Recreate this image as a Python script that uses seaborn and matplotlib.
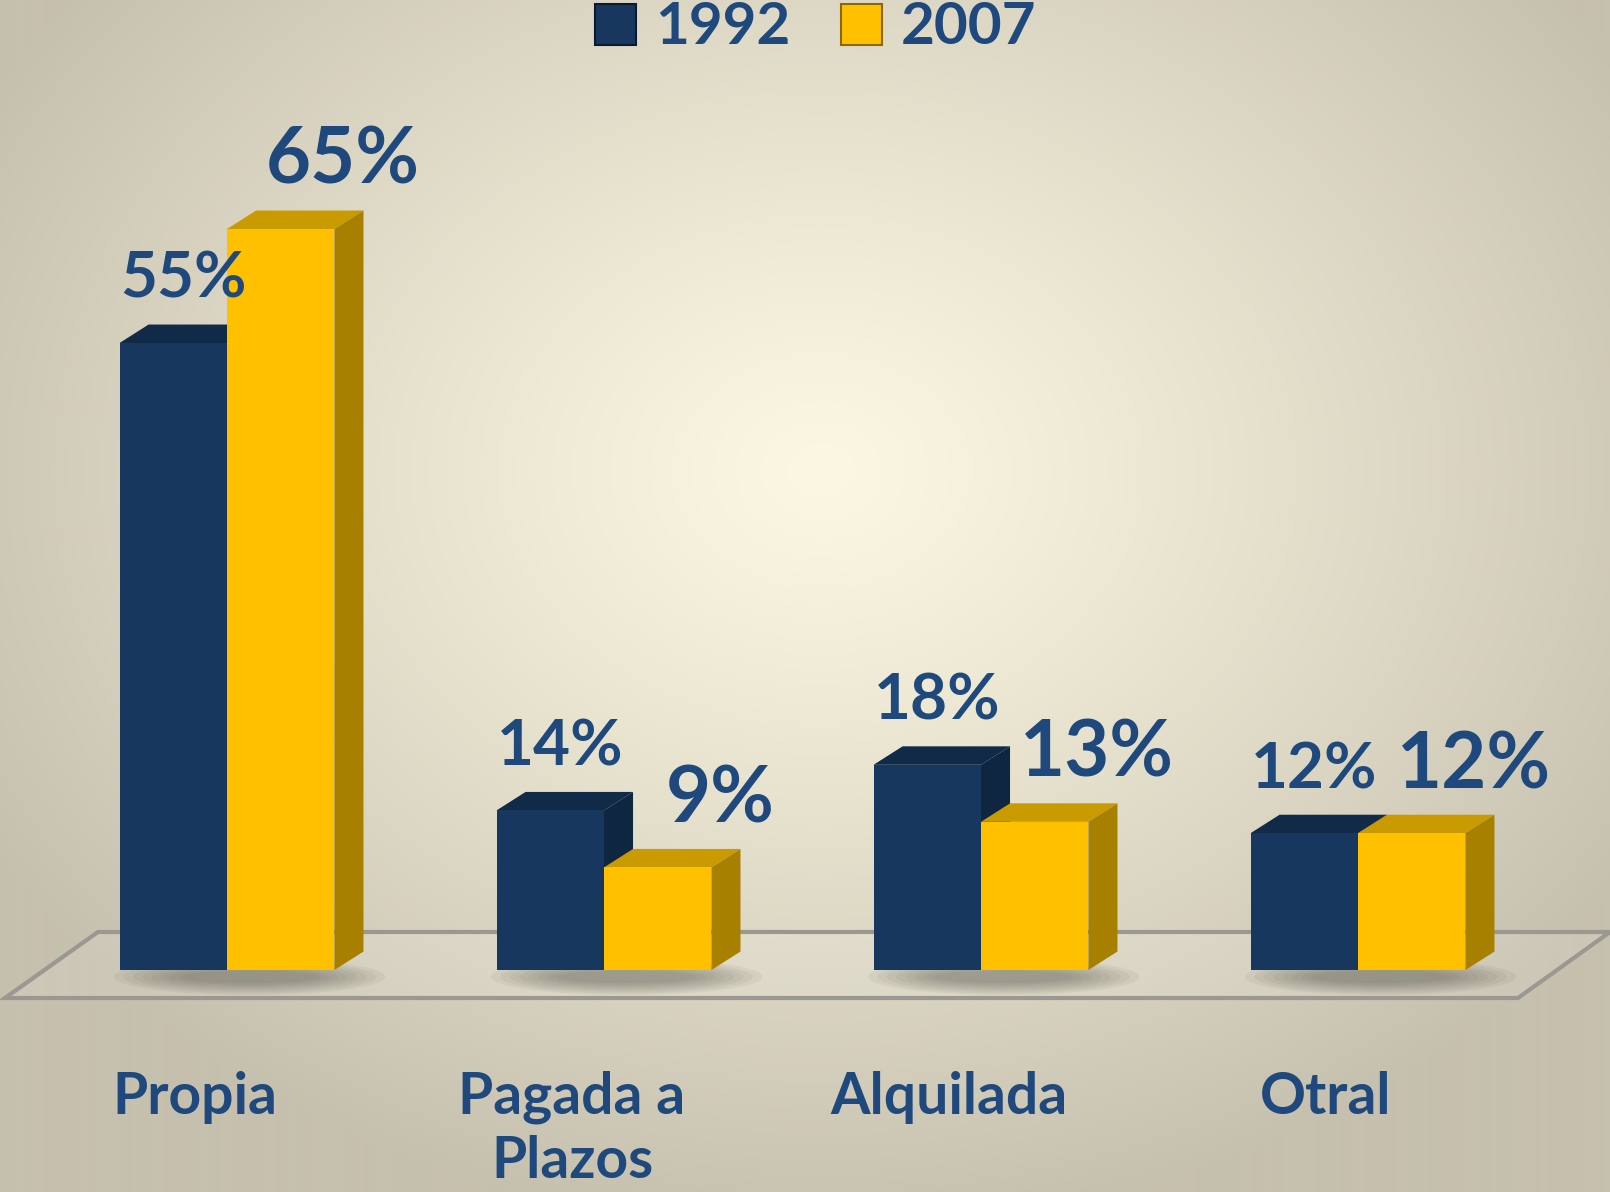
import numpy as np
import pandas as pd
import matplotlib
matplotlib.use("Agg")
import matplotlib.pyplot as plt
import seaborn as sns
from matplotlib.patches import Polygon, Ellipse

# ---------------- data ----------------
categories = ["Propia", "Pagada a\nPlazos", "Alquilada", "Otral"]
years = ["1992", "2007"]
values_1992 = [55, 14, 18, 12]
values_2007 = [65, 9, 13, 12]
labels_1992 = ["55%", "14%", "18%", "12%"]
labels_2007 = ["65%", "9%", "13%", "12%"]

df = pd.DataFrame({
    "cat": categories * 2,
    "year": [years[0]] * len(categories) + [years[1]] * len(categories),
    "val": values_1992 + values_2007,
})

# ---------------- style ----------------
sns.set_theme(style="white")
plt.rcParams['font.family'] = ['Lato', 'DejaVu Sans']
TXT = "#1f497d"
FRONT = ["#17375e", "#ffc000"]
TOP = ["#112a48", "#c99b00"]
SIDE = ["#0f2640", "#a88000"]

W, H = 1610, 1192
fig = plt.figure(figsize=(W / 100, H / 100), dpi=100)

# radial gradient background
bg = fig.add_axes([0, 0, 1, 1], zorder=-10)
yy, xx = np.mgrid[0:H, 0:W]
r = np.sqrt(((xx - 820) / 950) ** 2 + ((yy - 470) / 760) ** 2)
t = np.clip(r, 0, 1) ** 1.2
c0 = np.array([251, 247, 226]) / 255
c1 = np.array([198, 192, 174]) / 255
img = c0 + (c1 - c0) * t[..., None]
bg.imshow(img, aspect='auto', extent=[0, 1, 0, 1])
bg.axis('off')

# floor plane
floor = Polygon([(98 / W, 1 - 932 / H), (1.0, 1 - 932 / H),
                 (1518 / W, 1 - 998 / H), (5 / W, 1 - 998 / H)],
                closed=True, transform=fig.transFigure, facecolor=(1, 1, 1, 0.12),
                edgecolor="#9a9890", linewidth=3, zorder=-5)
fig.add_artist(floor)

ax = fig.add_axes([38.5 / W, 1 - 970 / H, 1508 / W, 912 / H])
ax.patch.set_alpha(0)

sns.barplot(data=df, x="cat", y="val", hue="year", hue_order=years,
            palette=FRONT, width=0.57, gap=0, saturation=1, ax=ax,
            edgecolor="none", linewidth=0)

ax.set_xlim(-0.5, 3.5)
ax.set_ylim(0, 80)
handles, labs = ax.get_legend_handles_labels()
ax.get_legend().remove()

# pseudo 3D faces
dx, dy = 0.077, 1.62
for k, cont in enumerate(ax.containers):
    for bar in cont:
        x0 = bar.get_x()
        w = bar.get_width()
        h = bar.get_height()
        x1 = x0 + w
        top = Polygon([(x0, h), (x1, h), (x1 + dx, h + dy), (x0 + dx, h + dy)],
                      closed=True, facecolor=TOP[k], edgecolor="none",
                      zorder=2 + 2 * k, clip_on=False)
        side = Polygon([(x1, 0), (x1 + dx, dy), (x1 + dx, h + dy), (x1, h)],
                       closed=True, facecolor=SIDE[k], edgecolor="none",
                       zorder=2 + 2 * k, clip_on=False)
        ax.add_patch(top)
        ax.add_patch(side)
        bar.set_zorder(3 + 2 * k)

# soft shadows under each group
for i in range(len(categories)):
    for j in range(8):
        e = Ellipse((i + 0.06, -0.6), 0.72 - j * 0.05, 3.2 - j * 0.3,
                    facecolor=(0.25, 0.25, 0.22, 0.06), edgecolor="none",
                    zorder=1.5, clip_on=False)
        ax.add_patch(e)

# value labels
for k, (cont, labs_k) in enumerate(zip(ax.containers, [labels_1992, labels_2007])):
    for bar, lab in zip(cont, labs_k):
        cx = bar.get_x() + bar.get_width() / 2
        h = bar.get_height()
        if k == 0:
            ax.annotate(lab, xy=(cx, h), xytext=(10, 45), textcoords='offset pixels',
                        ha='center', va='baseline', fontsize=46, fontweight='bold',
                        color=TXT, zorder=10, annotation_clip=False)
        else:
            ax.annotate(lab, xy=(cx, h), xytext=(62, 45), textcoords='offset pixels',
                        ha='center', va='baseline', fontsize=56, fontweight='bold',
                        color=TXT, zorder=10, annotation_clip=False)

# category labels (one text per line so every first line shares a baseline)
for i, cat in enumerate(categories):
    for ln, line in enumerate(cat.split("\n")):
        ax.annotate(line, xy=(i, 0), xytext=(-32, -144 - 64 * ln),
                    textcoords='offset pixels', ha='center', va='baseline',
                    fontsize=41, fontweight='bold', color=TXT,
                    annotation_clip=False)

ax.set_xticks([])
ax.set_yticks([])
ax.set_xlabel("")
ax.set_ylabel("")
for s in ax.spines.values():
    s.set_visible(False)

for hd in handles:
    hd.set_edgecolor("#0b1a2e" if hd.get_facecolor()[2] > 0.3 else "#8a6a00")
    hd.set_linewidth(1.5)

fig.legend(handles, labs, loc='center', bbox_to_anchor=(816 / W, 1 - 28 / H),
           ncol=2, frameon=False, prop={'size': 42, 'weight': 'bold'},
           labelcolor=TXT, handlelength=0.7, handleheight=0.7,
           handletextpad=0.33, columnspacing=0.86)

fig.savefig("out.png", dpi=100)
